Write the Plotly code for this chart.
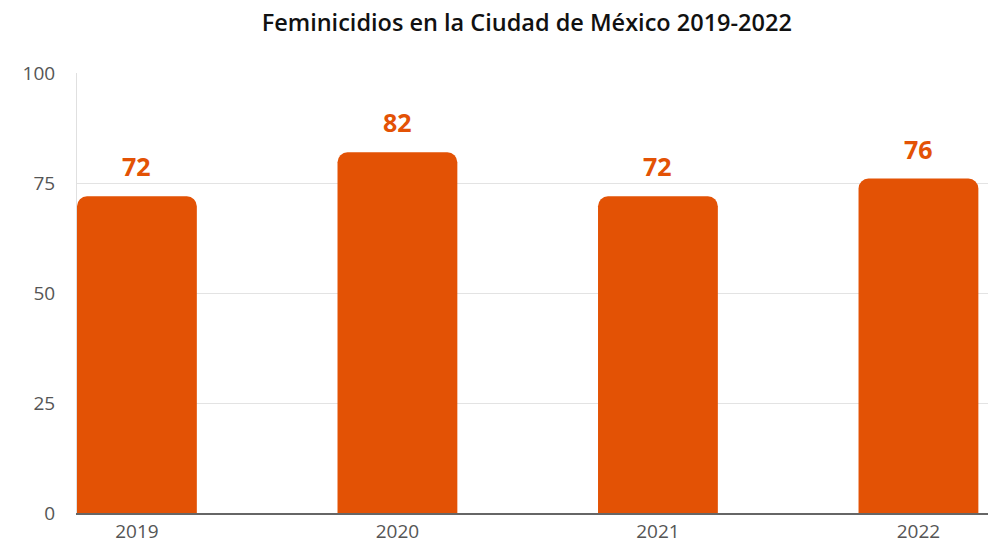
import plotly.graph_objects as go

years = ["2019", "2020", "2021", "2022"]
feminicidios = [72, 82, 72, 76]
y_ticks = [0, 25, 50, 75, 100]

BAR = "#E35205"
FONT = "Open Sans"

fig = go.Figure()
fig.add_trace(go.Bar(
    x=years, y=feminicidios,
    marker=dict(color=BAR, cornerradius=10, line=dict(width=0)),
    width=0.46, hoverinfo="x+y",
))

for i, v in enumerate(feminicidios):
    fig.add_annotation(x=i, y=v, xref="x", yref="y", text=f"<b>{v}</b>",
                       showarrow=False, yanchor="bottom", yshift=11,
                       font=dict(family=FONT, size=25, color=BAR))

fig.update_layout(
    width=992, height=543,
    margin=dict(l=77, r=4, t=73, b=30),
    paper_bgcolor="white", plot_bgcolor="white",
    title=dict(text="Feminicidios en la Ciudad de México 2019-2022",
               x=0.531, xanchor="center", y=0.958, yanchor="middle",
               font=dict(family=FONT, size=23.5, color="#111", weight=600)),
    showlegend=False,
    xaxis=dict(type="category", range=[-0.23, 3.267], showgrid=False,
               showline=True, linecolor="#666", linewidth=1.5,
               ticks="", ticklabelstandoff=0, automargin=False,
               tickfont=dict(family=FONT, size=19, color="#555")),
    yaxis=dict(range=[0, 100], tickvals=y_ticks, showgrid=True,
               gridcolor="#e3e3e3", gridwidth=1, zeroline=False,
               showline=True, linecolor="#e0e0e0", ticks="",
               ticklabelstandoff=17, automargin=False,
               tickfont=dict(family=FONT, size=19, color="#555")),
)

fig.write_html("out.html", config={"displayModeBar": False},
               post_script="document.body.style.margin='0';")
